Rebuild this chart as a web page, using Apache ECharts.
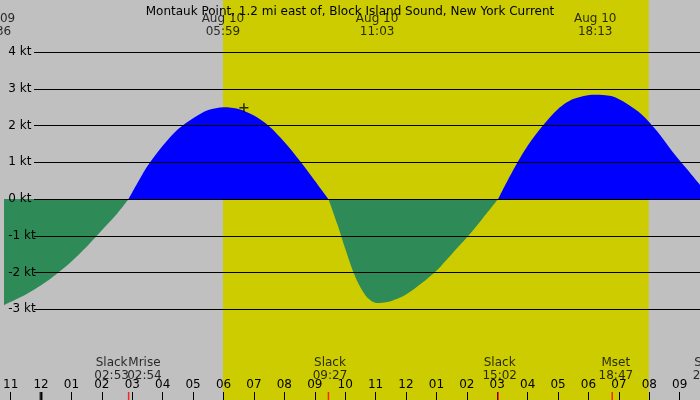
<!DOCTYPE html><html><head><meta charset="utf-8"><script src="https://cdn.jsdelivr.net/npm/echarts@6/dist/echarts.min.js"></script>
<style>body{margin:0}#c{width:700px;height:400px}</style></head><body><div id="c"></div><script>
const title='Montauk Point, 1.2 mi east of, Block Island Sound, New York Current';
const times=[-1.3,-0.5,0,0.5,1,1.5,2,2.5,2.88,3.25,3.5,4,4.5,5,5.5,6,6.5,7,7.5,8,8.5,9,9.45,9.75,10,10.25,10.5,10.75,11.05,11.5,12,12.5,13,13.5,14,14.5,15.03,15.5,16,16.5,17,17.5,18.2,18.75,19.25,19.75,20.25,20.75,21.25,21.75];
const speeds=[-2.92,-2.6,-2.35,-2.05,-1.7,-1.3,-0.85,-0.4,0,0.55,0.9,1.45,1.9,2.2,2.42,2.5,2.45,2.27,1.98,1.55,1.05,0.5,0,-0.7,-1.35,-1.95,-2.4,-2.7,-2.83,-2.78,-2.6,-2.3,-1.95,-1.5,-1.05,-0.55,0,0.75,1.45,2.0,2.45,2.72,2.84,2.8,2.6,2.3,1.85,1.3,0.8,0.3];
const ktLevels=[-3,-2,-1,0,1,2,3,4];
const hourTicks=[-1,0,1,2,3,4,5,6,7,8,9,10,11,12,13,14,15,16,17,18,19,20,21];
const daylight=[5.98,19.98];
const topLabels=[[-1.55,'Aug 09\n22:36'],[5.98,'Aug 10\n05:59'],[11.05,'Aug 10\n11:03'],[18.22,'Aug 10\n18:13']];
const bottomLabels=[[2.32,'Slack\n02:53'],[3.4,'Mrise\n02:54'],[9.5,'Slack\n09:27'],[15.08,'Slack\n15:02'],[18.9,'Mset\n18:47'],[22.0,'Slack\n21:42']];
const redTicks=[2.88,9.45,15.03,18.78];
const nowPoint=[6.67,2.48];
const XMIN=-37/30.6, XMAX=663/30.6, YMIN=-201/36.75, YMAX=199/36.75;
const font='DejaVu Sans';
const flood=times.map((t,i)=>[t,speeds[i]>=0?speeds[i]:null]);
const ebb=times.map((t,i)=>[t,speeds[i]<=0?speeds[i]:null]);
const ch=echarts.init(document.getElementById('c'));
ch.setOption({
 backgroundColor:'#c0c0c0',animation:false,
 title:{text:title,left:'center',top:1,textStyle:{fontFamily:font,fontSize:12,fontWeight:'normal',color:'#000'}},
 grid:[{left:0,right:0,top:0,bottom:0}],
 xAxis:[{type:'value',z:10,min:XMIN,max:XMAX,axisLine:{show:false,onZero:false},splitLine:{show:false},
   axisTick:{inside:true,length:8,customValues:hourTicks,lineStyle:{color:'#000'}},
   axisLabel:{inside:true,margin:9,customValues:hourTicks,color:'#000',fontFamily:font,fontSize:12,formatter:v=>{let h=((Math.round(v)%12)+12)%12;if(h===0)h=12;return String(h).padStart(2,'0');}}}],
 yAxis:[{type:'value',z:10,min:YMIN,max:YMAX,axisLine:{show:false},axisTick:{show:false},splitLine:{show:false},
   axisLabel:{inside:true,margin:4,customValues:ktLevels,color:'#000',fontFamily:font,fontSize:12,verticalAlign:'middle',formatter:v=>Math.round(v)+' kt'}}],
 series:[
  {type:'line',data:[],z:1,markArea:{silent:true,itemStyle:{color:'#cccc00'},data:[[{xAxis:daylight[0]},{xAxis:daylight[1]}]]}},
  {type:'line',z:2,clip:false,data:flood,smooth:0.3,symbol:'none',lineStyle:{width:0},areaStyle:{opacity:1,color:'#0000ff'},itemStyle:{color:'#0000ff'}},
  {type:'line',z:2,clip:false,data:ebb,smooth:0.3,symbol:'none',lineStyle:{width:0},areaStyle:{opacity:1,color:'#2e8b57'},itemStyle:{color:'#2e8b57'}},
  {type:'line',z:3,data:[],markLine:{silent:true,symbol:'none',label:{show:false},lineStyle:{color:'#000',width:1,type:'solid'},
    data:ktLevels.map(k=>[{coord:[-0.23,k]},{coord:[XMAX,k]}])}},
  {type:'scatter',z:5,data:[nowPoint],symbol:'path://M-1,-6H1V-1H6V1H1V6H-1V1H-6V-1H-1Z',symbolSize:9,itemStyle:{color:'#000'}},
  {type:'scatter',z:11,clip:false,symbolSize:0,silent:true,
   data:topLabels.map(l=>({value:[l[0],YMAX-25/36.75],label:{formatter:l[1]}}))
    .concat(bottomLabels.map(l=>({value:[l[0],YMIN+31/36.75],label:{formatter:l[1]}}))),
   label:{show:true,position:'inside',color:'#000',fontFamily:font,fontSize:12,lineHeight:13}},
  {type:'scatter',z:12,symbol:'rect',symbolSize:[1.5,8],itemStyle:{color:'#ff0000'},data:redTicks.map(t=>[t,YMIN+4/36.75])},
  {type:'scatter',z:12,symbol:'rect',symbolSize:[3,8],itemStyle:{color:'#000'},data:[[0,YMIN+4/36.75]]}
 ]
});
</script></body></html>
